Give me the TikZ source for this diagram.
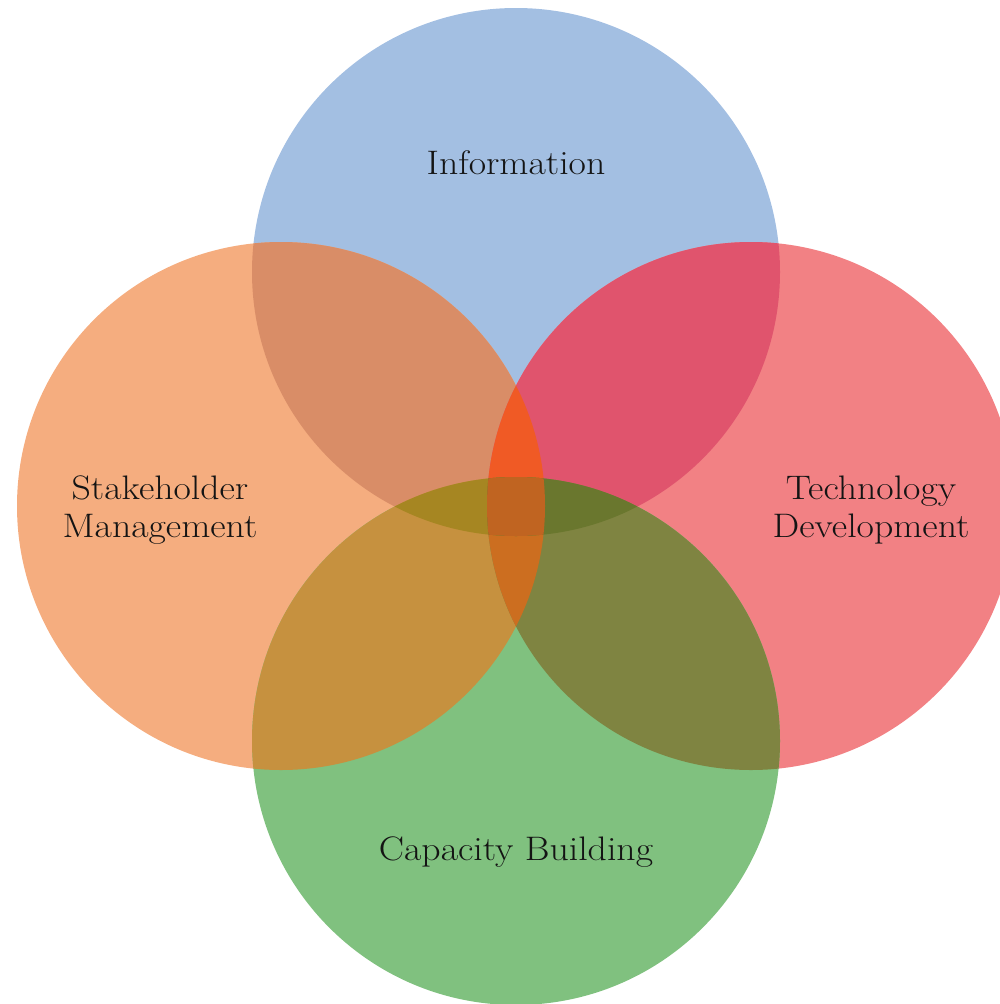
\documentclass[tikz,border=0pt]{standalone}
\definecolor{cT}{HTML}{A3BFE2}
\definecolor{cL}{HTML}{F5AD7F}
\definecolor{cR}{HTML}{F28184}
\definecolor{cB}{HTML}{80C17F}
\definecolor{cTL}{HTML}{D98D67}
\definecolor{cTR}{HTML}{E0546D}
\definecolor{cBL}{HTML}{C6913F}
\definecolor{cBR}{HTML}{7F8441}
\definecolor{cLRT}{HTML}{F05A25}
\definecolor{cLRB}{HTML}{CC6E20}
\definecolor{cTBL}{HTML}{A68622}
\definecolor{cTBR}{HTML}{6A772E}
\definecolor{cQ}{HTML}{C06421}
\tikzset{lbl/.style={align=center,text=black!92,xscale=1.11,font=\fontsize{34}{38}\selectfont}}
\begin{document}
\begin{tikzpicture}[x=1pt,y=-1pt]
\useasboundingbox (0,0) rectangle (1000,1004);
\def\R{264pt}
\coordinate (T) at (516,272);
\coordinate (L) at (281,506);
\coordinate (R) at (751,506);
\coordinate (B) at (516,741);
% single circles
\fill[cT] (T) circle[radius=\R];
\fill[cL] (L) circle[radius=\R];
\fill[cR] (R) circle[radius=\R];
\fill[cB] (B) circle[radius=\R];
% pairs
\begin{scope}\clip (T) circle[radius=\R]; \fill[cTL] (L) circle[radius=\R];\end{scope}
\begin{scope}\clip (T) circle[radius=\R]; \fill[cTR] (R) circle[radius=\R];\end{scope}
\begin{scope}\clip (B) circle[radius=\R]; \fill[cBL] (L) circle[radius=\R];\end{scope}
\begin{scope}\clip (B) circle[radius=\R]; \fill[cBR] (R) circle[radius=\R];\end{scope}
% triples
\begin{scope}\clip (L) circle[radius=\R]; \clip (R) circle[radius=\R]; \fill[cLRT] (T) circle[radius=\R];\end{scope}
\begin{scope}\clip (L) circle[radius=\R]; \clip (R) circle[radius=\R]; \fill[cLRB] (B) circle[radius=\R];\end{scope}
\begin{scope}\clip (T) circle[radius=\R]; \clip (B) circle[radius=\R]; \fill[cTBL] (L) circle[radius=\R];\end{scope}
\begin{scope}\clip (T) circle[radius=\R]; \clip (B) circle[radius=\R]; \fill[cTBR] (R) circle[radius=\R];\end{scope}
% all four
\begin{scope}\clip (L) circle[radius=\R]; \clip (R) circle[radius=\R]; \clip (T) circle[radius=\R]; \fill[cQ] (B) circle[radius=\R];\end{scope}
% labels
\node[lbl] (info) at (516,163) {Information};
\node[lbl] (stake) at (160,510) {Stakeholder\\Management};
\node[lbl] (tech) at (871,510) {Technology\\Development};
\node[lbl] (cap) at (516,852) {Capacity Building};
\end{tikzpicture}
\end{document}
